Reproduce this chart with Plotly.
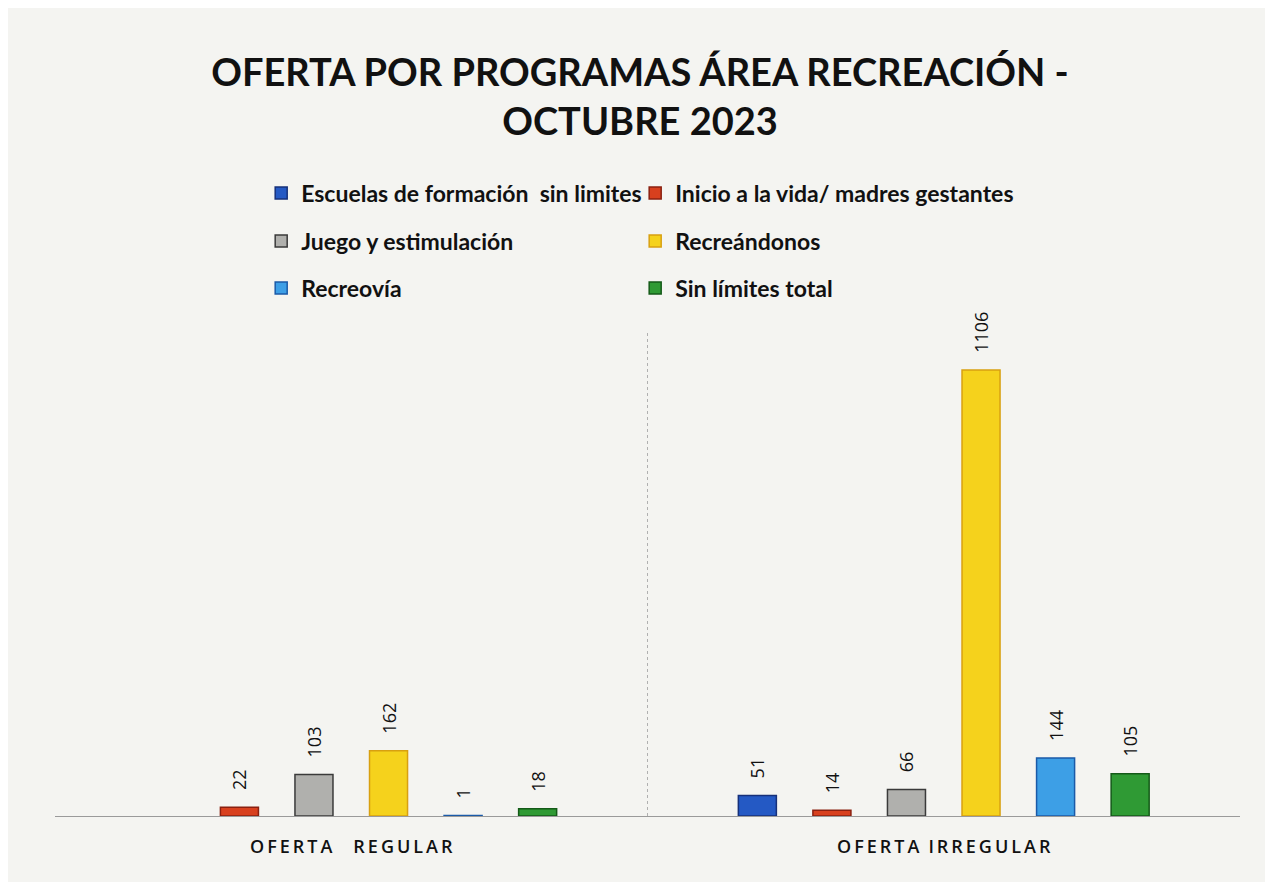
import plotly.graph_objects as go

categories = ["OFERTA  REGULAR", "OFERTA IRREGULAR"]
tick_labels = ["O\u2009F\u2009E\u2009R\u2009T\u2009A\u2003\u2009R\u2009E\u2009G\u2009U\u2009L\u2009A\u2009R",
               "O\u2009F\u2009E\u2009R\u2009T\u2009A\u2002I\u2009R\u2009R\u2009E\u2009G\u2009U\u2009L\u2009A\u2009R"]
series_names = ["Escuelas de formación  sin limites", "Inicio a la vida/ madres gestantes",
                "Juego y estimulación", "Recreándonos", "Recreovía", "Sin límites total"]
escuelas = [None, 51]
inicio = [22, 14]
juego = [103, 66]
recreandonos = [162, 1106]
recreovia = [1, 144]
sin_limites = [18, 105]
values = [escuelas, inicio, juego, recreandonos, recreovia, sin_limites]
colors = ["#2459c4", "#d8401e", "#b0b0ad", "#f5d21c", "#3d9fe6", "#2f9a34"]
lines = ["#16307a", "#8a2010", "#3a3a3a", "#d8a010", "#1a5aa8", "#145a18"]
legend_ids = ["legend", "legend2", "legend3", "legend4", "legend5", "legend6"]
legend_x = [0.174, 0.4896, 0.174, 0.4896, 0.174, 0.4896]
legend_y = [1.287, 1.287, 1.188, 1.188, 1.091, 1.091]

fig = go.Figure()
for name, vals, c, lc, lg in zip(series_names, values, colors, lines, legend_ids):
    fig.add_trace(go.Bar(
        x=categories, y=vals, name=name, legend=lg,
        marker=dict(color=c, line=dict(color=lc, width=1.5)),
        text=[("" if v is None else "\u00a0\u00a0\u00a0" + str(v)) for v in vals],
        textposition="outside", textangle=-90, constraintext="none",
        textfont=dict(family="Open Sans, sans-serif", size=18, color="#111"),
        cliponaxis=False,
    ))

leg_common = dict(orientation="h",
                  font=dict(family="Lato, sans-serif", size=23, color="#111", weight="bold"),
                  bgcolor="rgba(0,0,0,0)", xanchor="left", yanchor="middle",
                  itemwidth=30)

legends = {}
for lg, lx, ly in zip(legend_ids, legend_x, legend_y):
    legends[lg] = dict(x=lx, y=ly, **leg_common)

fig.update_layout(
    width=1273, height=882,
    paper_bgcolor="#f4f4f1", plot_bgcolor="#f4f4f1",
    title=dict(text="OFERTA POR PROGRAMAS ÁREA RECREACIÓN -<br>OCTUBRE 2023",
               x=0.4965, xanchor="center", y=0.912, yanchor="top",
               font=dict(family="Lato, sans-serif", size=38, color="#111", weight="bold")),
    margin=dict(l=47, r=41, t=324, b=74),
    barmode="group", bargap=0.245, bargroupgap=0.49,
    showlegend=True,
    xaxis=dict(showgrid=False, showline=True, linecolor="#9a9a9a", linewidth=1,
               ticks="", tickmode="array", tickvals=categories, ticktext=tick_labels,
               tickfont=dict(family="Open Sans, sans-serif", size=18, color="#111", weight=600),
               ticklabelstandoff=14),
    yaxis=dict(range=[0, 1200], visible=False, showgrid=False),
    shapes=[dict(type="line", xref="x", yref="paper", x0=0.5, x1=0.5, y0=0, y1=1,
                 line=dict(color="#b0b0b0", width=1, dash="dot"))],
    **legends,
)

fig.write_html("out.html")
